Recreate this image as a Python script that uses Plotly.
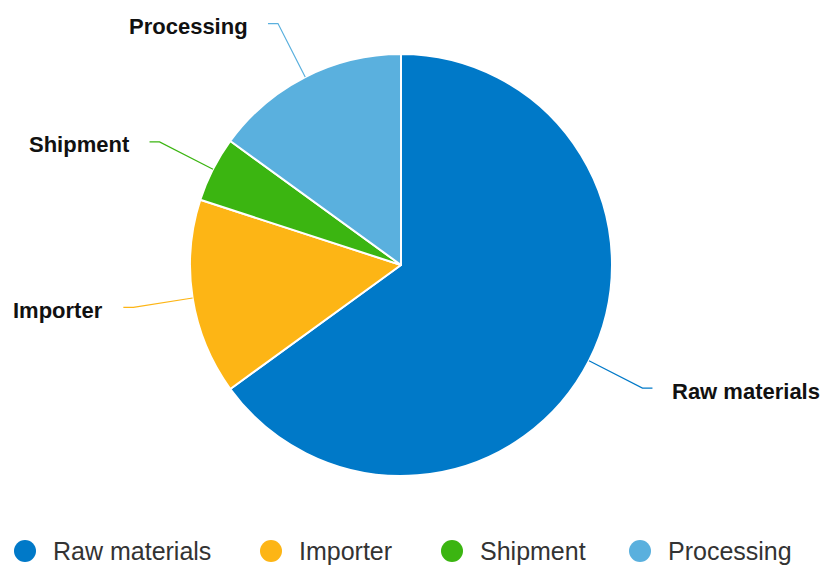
import math
import plotly.graph_objects as go

# ---- data ----
categories = ["Raw materials", "Importer", "Shipment", "Processing"]
shares = [65, 15, 5, 15]
colors = ["#0079C8", "#FDB515", "#3BB511", "#5AB0DE"]

# ---- layout geometry (pixels) ----
W, H = 827, 565
CX, CY, R = 401, 265, 211
BREAK_R = R + 60             # connector elbow radius
HSEG = 10                    # horizontal connector segment
GAP = 18                     # gap between connector end and label
LABEL_DY = 3                 # label baseline shift below elbow
LEG_Y = 551
LEG_X = [25, 271, 452, 640]  # legend symbol centres
LEG_R = 11

def px2paper(x, y):
    return x / W, 1 - y / H

fig = go.Figure()

x0, y1 = px2paper(CX - R, CY - R)
x1, y0 = px2paper(CX + R, CY + R)
fig.add_trace(go.Pie(
    labels=categories, values=shares, sort=False, direction="clockwise",
    rotation=0, textinfo="none", hoverinfo="label+percent",
    marker=dict(colors=colors, line=dict(color="#ffffff", width=2)),
    domain=dict(x=[x0, x1], y=[y0, y1]),
    showlegend=False,
))

shapes, annotations = [], []
total = sum(shares)
cum = 0
for name, v, c in zip(categories, shares, colors):
    mid = (cum + v / 2) / total * 2 * math.pi
    cum += v
    s, co = math.sin(mid), math.cos(mid)
    ex, ey = CX + R * s, CY - R * co
    bx, by = CX + BREAK_R * s, CY - BREAK_R * co
    side = 1 if s >= 0 else -1
    hx = bx + side * HSEG
    pts = [px2paper(ex, ey), px2paper(bx, by), px2paper(hx, by)]
    path = "M {} {} L {} {} L {} {}".format(*[p for xy in pts for p in xy])
    shapes.append(dict(type="path", xref="paper", yref="paper", path=path,
                       line=dict(color=c, width=1.2)))
    lx, ly = px2paper(hx + side * GAP, by + LABEL_DY)
    annotations.append(dict(x=lx, y=ly, xref="paper", yref="paper", text="<b>%s</b>" % name,
                            showarrow=False, xanchor="left" if side > 0 else "right",
                            yanchor="middle",
                            font=dict(family="Liberation Sans, Arial", size=22, color="#111111")))

# legend drawn as circles + text
for name, c, lx in zip(categories, colors, LEG_X):
    ax0, ay1 = px2paper(lx - LEG_R, LEG_Y - LEG_R)
    ax1, ay0 = px2paper(lx + LEG_R, LEG_Y + LEG_R)
    shapes.append(dict(type="circle", xref="paper", yref="paper", x0=ax0, x1=ax1, y0=ay0, y1=ay1,
                       fillcolor=c, line=dict(width=0)))
    tx, ty = px2paper(lx + 26, LEG_Y)
    annotations.append(dict(x=tx, y=ty, xref="paper", yref="paper", text=name, showarrow=False,
                            xanchor="left", yanchor="middle",
                            font=dict(family="Liberation Sans, Arial", size=25, color="#333333")))

fig.update_layout(
    width=W, height=H,
    margin=dict(l=0, r=0, t=0, b=0),
    paper_bgcolor="#ffffff", plot_bgcolor="#ffffff",
    shapes=shapes, annotations=annotations,
    showlegend=False,
)

fig.write_html("out.html", config={"displayModeBar": False},
               post_script="document.body.style.margin='0';")
